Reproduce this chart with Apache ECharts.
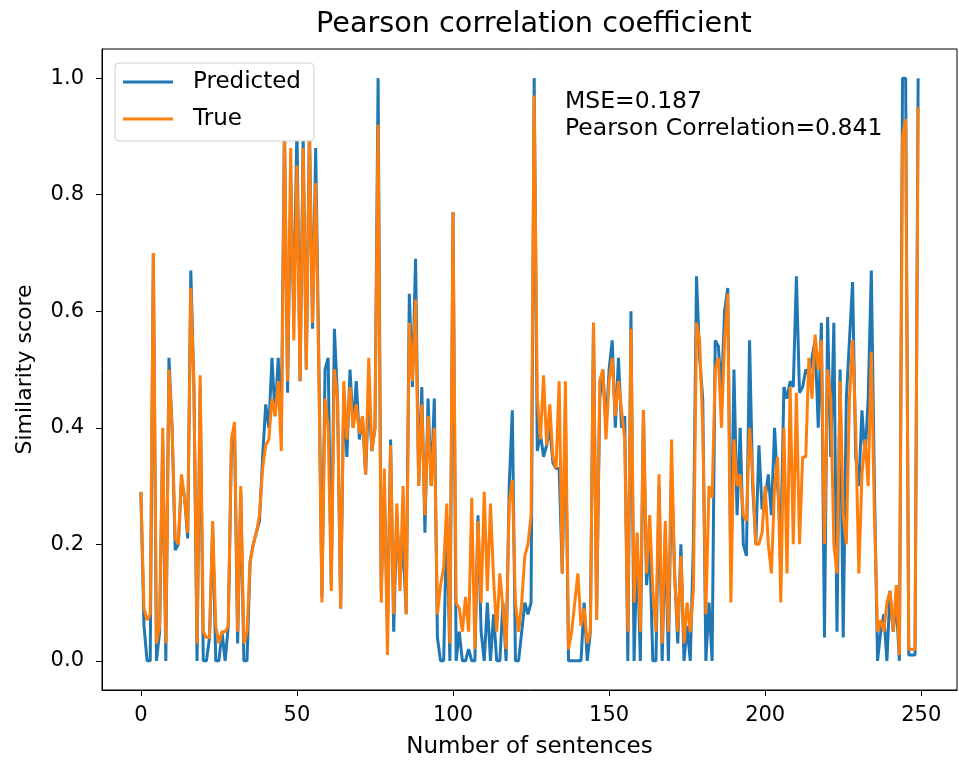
<!DOCTYPE html>
<html lang="en">
<head>
    <meta charset="UTF-8">
    <title>Pearson correlation coefficient</title>
    <script src="https://cdn.jsdelivr.net/npm/echarts@6/dist/echarts.min.js"></script>
    <style>
        body { margin: 0; background: #fff; }
        #main { width: 959px; height: 767px; }
    </style>
</head>
<body>
    <div id="main"></div>
</body>
<script>
    // values, one per sentence (0..249)
    var predicted = [
        0.29, 0.06, 0.00, 0.00, 0.70, 0.00, 0.05, 0.38, 0.00, 0.52,
        0.40, 0.19, 0.20, 0.31, 0.28, 0.21, 0.67, 0.47, 0.00, 0.47,
        0.00, 0.00, 0.04, 0.23, 0.00, 0.00, 0.05, 0.00, 0.06, 0.36,
        0.40, 0.03, 0.29, 0.00, 0.00, 0.17, 0.20, 0.22, 0.24, 0.35,
        0.44, 0.40, 0.52, 0.42, 0.52, 0.40, 0.92, 0.46, 0.82, 0.60,
        0.92, 0.48, 0.90, 0.50, 0.92, 0.57, 0.88, 0.52, 0.11, 0.50,
        0.52, 0.13, 0.57, 0.45, 0.09, 0.46, 0.35, 0.50, 0.40, 0.48,
        0.38, 0.42, 0.32, 0.46, 0.36, 0.40, 1.00, 0.12, 0.30, 0.05,
        0.38, 0.05, 0.25, 0.14, 0.20, 0.08, 0.63, 0.47, 0.69, 0.30,
        0.47, 0.22, 0.45, 0.30, 0.45, 0.04, 0.00, 0.00, 0.25, 0.00,
        0.77, 0.00, 0.05, 0.00, 0.00, 0.02, 0.00, 0.00, 0.25, 0.05,
        0.00, 0.10, 0.00, 0.08, 0.00, 0.00, 0.10, 0.00, 0.30, 0.43,
        0.00, 0.00, 0.05, 0.10, 0.08, 0.10, 1.00, 0.36, 0.39, 0.35,
        0.37, 0.40, 0.34, 0.33, 0.33, 0.15, 0.43, 0.00, 0.00, 0.00,
        0.00, 0.00, 0.10, 0.00, 0.05, 0.58, 0.08, 0.45, 0.50, 0.40,
        0.50, 0.55, 0.40, 0.52, 0.40, 0.42, 0.00, 0.60, 0.00, 0.20,
        0.00, 0.43, 0.13, 0.20, 0.00, 0.00, 0.30, 0.00, 0.22, 0.00,
        0.33, 0.15, 0.03, 0.20, 0.00, 0.06, 0.00, 0.20, 0.66, 0.52,
        0.45, 0.00, 0.10, 0.00, 0.55, 0.54, 0.46, 0.60, 0.64, 0.15,
        0.50, 0.25, 0.40, 0.20, 0.18, 0.55, 0.30, 0.20, 0.37, 0.26,
        0.28, 0.32, 0.25, 0.40, 0.30, 0.20, 0.47, 0.45, 0.48, 0.47,
        0.66, 0.46, 0.47, 0.50, 0.49, 0.52, 0.55, 0.40, 0.58, 0.04,
        0.59, 0.35, 0.58, 0.05, 0.50, 0.04, 0.45, 0.55, 0.65, 0.35,
        0.30, 0.43, 0.35, 0.45, 0.67, 0.30, 0.00, 0.05, 0.08, 0.00,
        0.12, 0.05, 0.10, 0.00, 1.00, 1.00, 0.01, 0.01, 0.01, 1.00
    ];
    var actual = [
        0.29, 0.09, 0.07, 0.08, 0.70, 0.03, 0.06, 0.40, 0.03, 0.50,
        0.40, 0.21, 0.20, 0.32, 0.28, 0.22, 0.64, 0.47, 0.03, 0.49,
        0.05, 0.04, 0.04, 0.24, 0.06, 0.03, 0.05, 0.05, 0.06, 0.38,
        0.41, 0.05, 0.30, 0.03, 0.05, 0.17, 0.20, 0.22, 0.25, 0.33,
        0.37, 0.38, 0.45, 0.42, 0.48, 0.36, 0.90, 0.48, 0.88, 0.55,
        0.85, 0.48, 0.88, 0.50, 0.90, 0.58, 0.82, 0.50, 0.10, 0.45,
        0.40, 0.12, 0.50, 0.45, 0.09, 0.48, 0.38, 0.47, 0.40, 0.44,
        0.39, 0.42, 0.32, 0.52, 0.36, 0.40, 0.92, 0.10, 0.33, 0.01,
        0.37, 0.08, 0.27, 0.12, 0.30, 0.08, 0.58, 0.48, 0.62, 0.30,
        0.44, 0.25, 0.42, 0.30, 0.40, 0.08, 0.13, 0.16, 0.27, 0.03,
        0.77, 0.10, 0.09, 0.05, 0.11, 0.05, 0.28, 0.02, 0.24, 0.10,
        0.29, 0.12, 0.27, 0.14, 0.05, 0.15, 0.09, 0.02, 0.27, 0.31,
        0.10, 0.05, 0.10, 0.18, 0.20, 0.25, 0.97, 0.45, 0.38, 0.49,
        0.37, 0.44, 0.35, 0.33, 0.48, 0.15, 0.48, 0.02, 0.05, 0.10,
        0.15, 0.06, 0.09, 0.03, 0.05, 0.58, 0.07, 0.48, 0.50, 0.38,
        0.48, 0.52, 0.42, 0.48, 0.43, 0.38, 0.05, 0.57, 0.10, 0.22,
        0.05, 0.43, 0.15, 0.25, 0.12, 0.05, 0.32, 0.03, 0.24, 0.05,
        0.38, 0.14, 0.05, 0.18, 0.03, 0.10, 0.05, 0.12, 0.58, 0.55,
        0.40, 0.08, 0.30, 0.28, 0.50, 0.52, 0.40, 0.55, 0.63, 0.10,
        0.38, 0.30, 0.32, 0.25, 0.24, 0.40, 0.32, 0.20, 0.20, 0.22,
        0.30, 0.20, 0.15, 0.30, 0.35, 0.10, 0.40, 0.15, 0.47, 0.20,
        0.46, 0.20, 0.35, 0.35, 0.52, 0.45, 0.56, 0.50, 0.55, 0.20,
        0.50, 0.45, 0.20, 0.15, 0.48, 0.25, 0.20, 0.45, 0.55, 0.40,
        0.15, 0.32, 0.38, 0.30, 0.53, 0.25, 0.05, 0.07, 0.05, 0.10,
        0.12, 0.05, 0.13, 0.01, 0.90, 0.93, 0.02, 0.02, 0.02, 0.95
    ];
    var xTicks = [0, 50, 100, 150, 200, 250];
    var yTicks = [0, 0.2, 0.4, 0.6, 0.8, 1.0];
    var mse = 0.187;
    var pearson = 0.841;

    var toPairs = function (arr) {
        return arr.map(function (v, i) { return [i, v]; });
    };

    var myChart = echarts.init(document.getElementById("main"));
    var font = "DejaVu Sans";

    myChart.setOption({
        animation: false,
        textStyle: { fontFamily: font },
        title: {
            text: "Pearson correlation coefficient",
            left: 311,
            top: 5,
            textStyle: { fontFamily: font, fontSize: 28.7, fontWeight: "normal", color: "#000" }
        },
        legend: {
            data: ["Predicted", "True"],
            orient: "vertical",
            left: 115,
            top: 63,
            padding: [6, 13, 9, 8],
            icon: "rect",
            itemWidth: 50,
            itemHeight: 3,
            itemGap: 11,
            backgroundColor: "#fff",
            borderColor: "#d0d0d0",
            borderWidth: 1,
            borderRadius: 4,
            textStyle: { fontFamily: font, fontSize: 23, lineHeight: 26, color: "#000", padding: [0, 0, 0, 15] }
        },
        grid: {
            left: 102,
            right: 2,
            top: 49,
            bottom: 77,
            show: true,
            borderColor: "#000",
            borderWidth: 1
        },
        xAxis: {
            type: "value",
            min: -12.45,
            max: 261.45,
            name: "Number of sentences",
            nameLocation: "middle",
            nameGap: 46,
            nameTextStyle: { fontFamily: font, fontSize: 23, color: "#000" },
            splitLine: { show: false },
            axisLine: { show: true, onZero: false, lineStyle: { color: "#000" } },
            axisTick: { show: true, length: 6, customValues: xTicks, lineStyle: { color: "#000" } },
            axisLabel: { customValues: xTicks, fontFamily: font, fontSize: 21, color: "#000", margin: 15 }
        },
        yAxis: {
            type: "value",
            min: -0.05,
            max: 1.05,
            name: "Similarity score",
            nameLocation: "middle",
            nameGap: 66,
            nameTextStyle: { fontFamily: font, fontSize: 22, color: "#000" },
            splitLine: { show: false },
            axisLine: { show: true, onZero: false, lineStyle: { color: "#000" } },
            axisTick: { show: true, length: 6, customValues: yTicks, lineStyle: { color: "#000" } },
            axisLabel: {
                customValues: yTicks, fontFamily: font, fontSize: 21, color: "#000", margin: 18,
                formatter: function (v) { return v.toFixed(1); }
            }
        },
        graphic: [{
            type: "text",
            left: 565,
            top: 88,
            style: {
                text: "MSE=" + mse + "\nPearson Correlation=" + pearson,
                font: "23.5px " + font,
                fill: "#000",
                lineHeight: 27
            }
        }],
        series: [
            {
                name: "Predicted",
                type: "line",
                data: toPairs(predicted),
                symbol: "none",
                color: "#1f77b4",
                lineStyle: { width: 3, color: "#1f77b4" }
            },
            {
                name: "True",
                type: "line",
                data: toPairs(actual),
                symbol: "none",
                color: "#ff7f0e",
                lineStyle: { width: 3, color: "#ff7f0e" }
            }
        ]
    });
</script>
</html>
